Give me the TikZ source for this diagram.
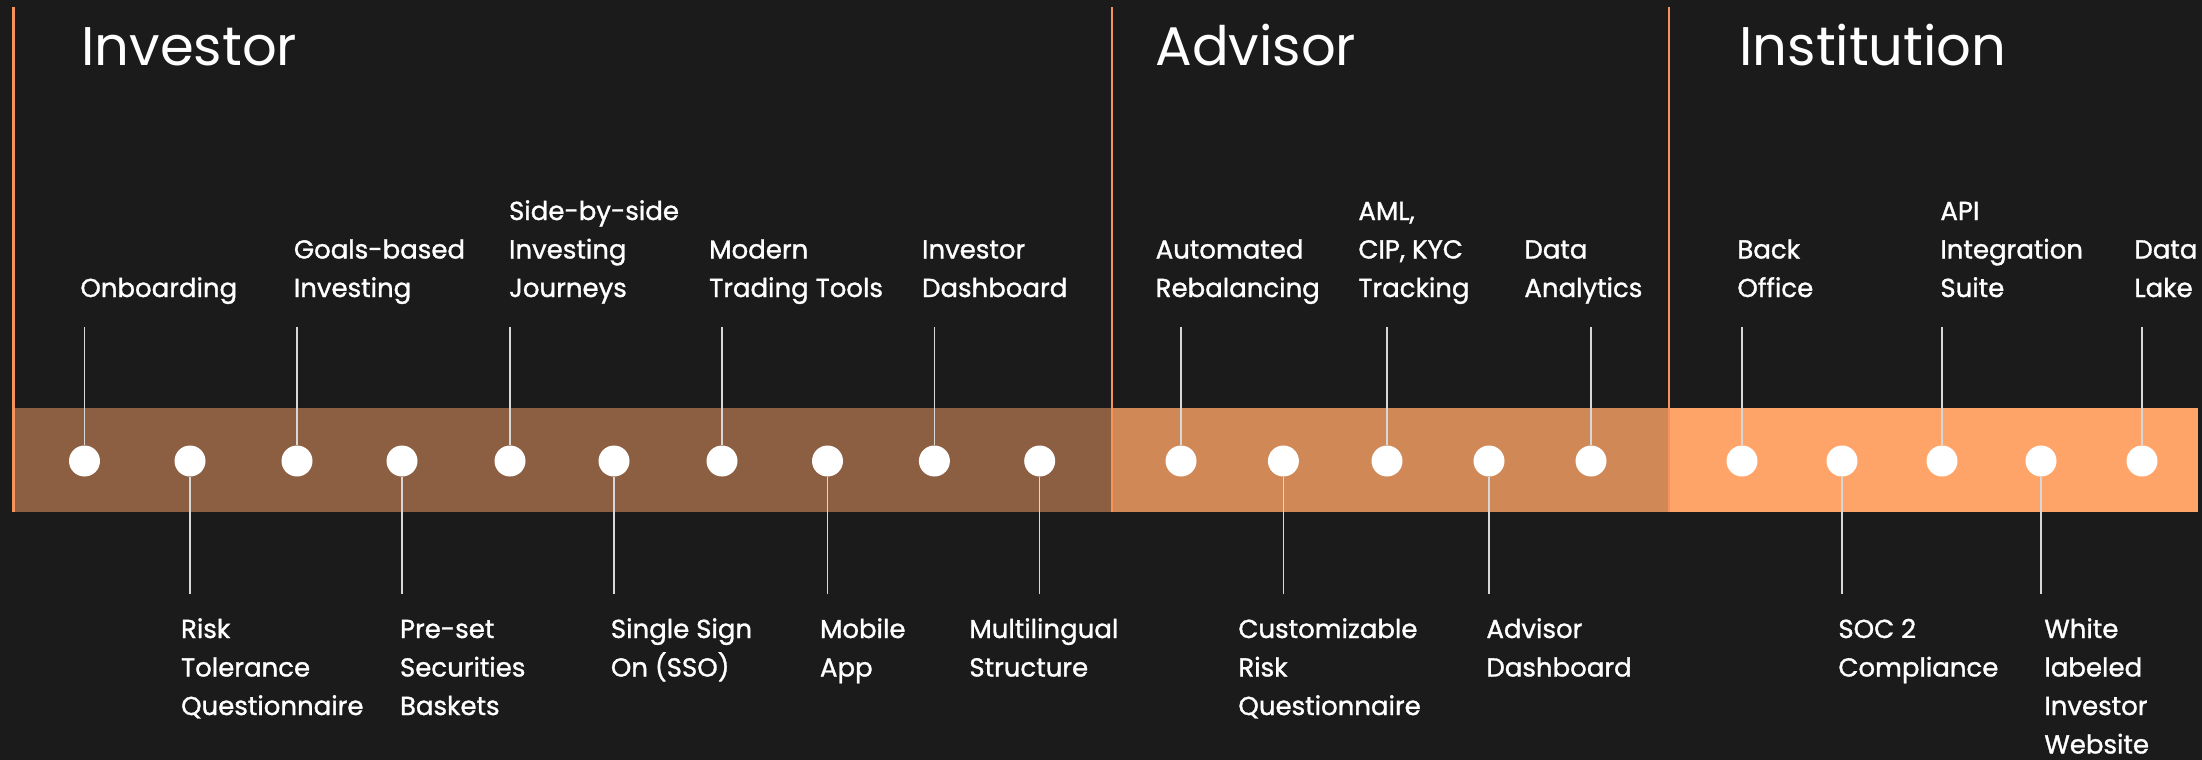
\documentclass[tikz,border=0pt]{standalone}
\usepackage{fontspec}
\setmainfont{Poppins}
\newfontfamily\labfont[FakeBold=1.2]{Poppins}
\definecolor{bg}{HTML}{1B1B1B}
\definecolor{bandA}{HTML}{8C5F43}
\definecolor{bandB}{HTML}{D18857}
\definecolor{bandC}{HTML}{FFA468}
\definecolor{divline}{HTML}{F5945A}
\definecolor{leadc}{HTML}{D8D8D8}
\newcommand\toplab[1]{\begin{tabular}[b]{@{}l@{}}#1\end{tabular}}
\newcommand\botlab[1]{\begin{tabular}[t]{@{}l@{}}#1\end{tabular}}
\begin{document}
\begin{tikzpicture}[x=0.5pt,y=-0.5pt,
  title/.style={text=white,inner sep=0pt,anchor=base west,font=\fontsize{27.2}{33}\selectfont},
  lab/.style={text=white,inner sep=0pt,font=\labfont\fontsize{13}{19.25}\selectfont},
  uplab/.style={lab,anchor=base west},
  downlab/.style={lab,anchor=base west},
  dot/.style={circle,fill=white,draw=none,minimum size=15.5pt,inner sep=0pt},
  leader/.style={draw=leadc,line width=0.7pt},
  divider/.style={draw=divline,line width=1.2pt}]
\useasboundingbox (0,0) rectangle (2202,760);
\fill[bg] (0,0) rectangle (2202,760);
% bands
\fill[bandA] (13,408) rectangle (1112,512);
\fill[bandB] (1112,408) rectangle (1669,512);
\fill[bandC] (1669,408) rectangle (2198,512);
% dividers
\coordinate (v1t) at (13,7);   \coordinate (v1b) at (13,512);
\coordinate (v2t) at (1112,7); \coordinate (v2b) at (1112,512);
\coordinate (v3t) at (1669,7); \coordinate (v3b) at (1669,512);
\draw[divider,line width=1.5pt] (v1t) -- (v1b);
\draw[divider] (v2t) -- (v2b);
\draw[divider] (v3t) -- (v3b);
% titles
\node[title] (tinv) at (81,65) {Investor};
\node[title] (tadv) at (1155,65) {Advisor};
\node[title] (tins) at (1739,65) {Institution};
% dots, leaders, labels
\foreach \i/\x/\side/\lx/\txt in {
  1/84.5/up/80/{Onboarding},
  2/190/down/180.7/{Risk\\Tolerance\\Questionnaire},
  3/297/up/293.5/{Goals-based\\Investing},
  4/402/down/399.6/{Pre-set\\Securities\\Baskets},
  5/510/up/508.7/{Side-by-side\\Investing\\Journeys},
  6/614/down/610.5/{Single Sign\\On (SSO)},
  7/722/up/708.8/{Modern\\Trading Tools},
  8/827.5/down/819.6/{Mobile\\App},
  9/934.4/up/921.7/{Investor\\Dashboard},
  10/1039.7/down/969/{Multilingual\\Structure},
  11/1181/up/1155.3/{Automated\\Rebalancing},
  12/1283.4/down/1238/{Customizable\\Risk\\Questionnaire},
  13/1387/up/1358/{AML,\\CIP, KYC\\Tracking},
  14/1489/down/1486/{Advisor\\Dashboard},
  15/1591/up/1524/{Data\\Analytics},
  16/1742/up/1737/{Back\\Office},
  17/1842/down/1838/{SOC 2\\Compliance},
  18/1942/up/1940/{API\\Integration\\Suite},
  19/2041/down/2044/{White\\labeled\\Investor\\Website},
  20/2142/up/2134/{Data\\Lake}}{
  \node[dot] (d\i) at (\x,461) {};
  \edef\tmpside{\side}
  \def\upword{up}
  \ifx\tmpside\upword
    \coordinate (e\i) at (\x,327);
    \node[uplab] (l\i) at (\lx,297) {\toplab{\txt}};
  \else
    \coordinate (e\i) at (\x,594);
    \node[downlab] (l\i) at (\lx,638) {\botlab{\txt}};
  \fi
  \draw[leader] (e\i) -- (d\i);
}
\end{tikzpicture}
\end{document}
